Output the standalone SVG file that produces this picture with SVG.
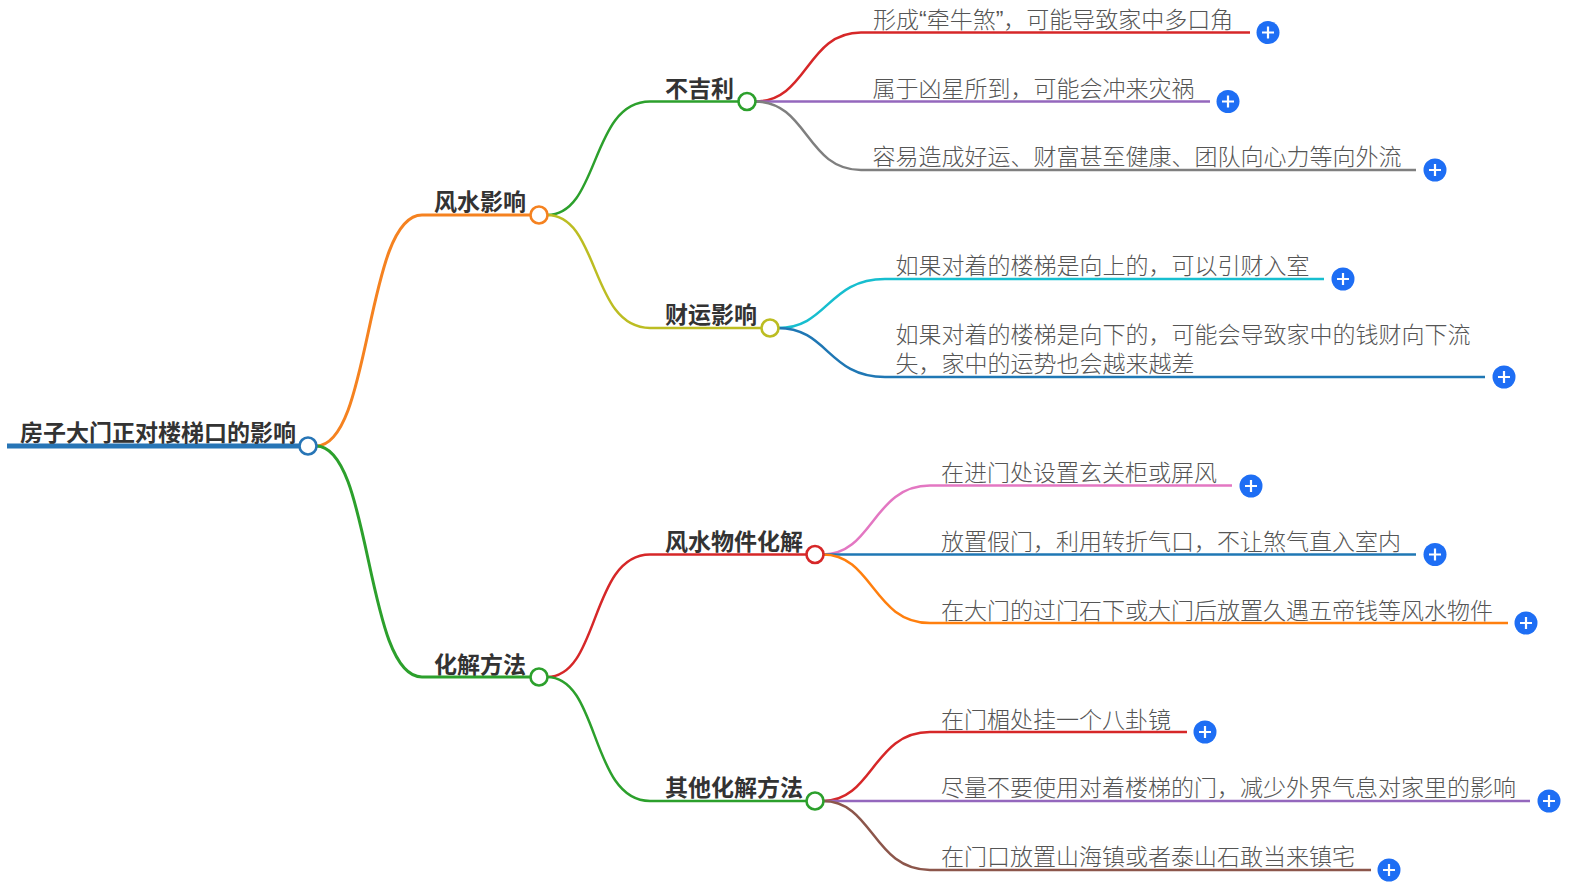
<svg xmlns="http://www.w3.org/2000/svg" width="1592" height="890" viewBox="0 0 1592 890">
<style>
text{font-family:"Noto Sans CJK SC","Noto Sans",sans-serif;font-size:23px}
.t{font-weight:700;fill:#333}
.l{font-weight:300;fill:#555}
.q{font-family:"Liberation Sans",sans-serif}
.c{fill:none;stroke-linecap:butt;stroke-width:2.500}
.m{stroke-width:3}
.r{stroke-width:5}
.d{fill:#fff;stroke-width:2.600}
.b{fill:#1e6ef4}
.p{stroke:#fff;stroke-width:2.200;fill:none}
</style>
<defs><g id="plus"><circle class="b" r="11.500"/><path class="p" d="M-6 0H6M0-6V6"/></g></defs>
<rect width="1592" height="890" fill="#fff"/>
<g id="connectors">
<path class="c r" stroke="#2775b6" d="M7 446H300"/>
<path class="c m" stroke="#f58220" d="M316 446C372 446 365 215 422 215H531"/>
<path class="c m" stroke="#2ca02c" d="M316 446C372 446 365 677 422 677H531"/>
<path class="c" stroke="#2ca02c" d="M547 215C600 215 590 101.500 650 101.500H739"/>
<path class="c" stroke="#bcbd22" d="M547 215C600 215 590 328 650 328H762"/>
<path class="c" stroke="#d62728" d="M547 677C600 677 590 554.500 650 554.500H807"/>
<path class="c" stroke="#2ca02c" d="M547 677C600 677 590 801 650 801H807"/>
<path class="c" stroke="#d62728" d="M755 101.500C808 101.500 806 32.500 861 32.500H1250"/>
<path class="c" stroke="#9467bd" d="M755 101.500H1210"/>
<path class="c" stroke="#7f7f7f" d="M755 101.500C808 101.500 806 170 861 170H1416"/>
<path class="c" stroke="#17becf" d="M778 328C828 328 828 279 885 279H1324"/>
<path class="c" stroke="#1f77b4" d="M778 328C828 328 828 377 885 377H1485"/>
<path class="c" stroke="#e377c2" d="M823 554.500C873 554.500 873 485.500 930 485.500H1232"/>
<path class="c" stroke="#1f77b4" d="M823 554.500H1416"/>
<path class="c" stroke="#ff7f0e" d="M823 554.500C873 554.500 873 623 930 623H1508"/>
<path class="c" stroke="#d62728" d="M823 801C873 801 873 732 930 732H1187"/>
<path class="c" stroke="#9467bd" d="M823 801H1530"/>
<path class="c" stroke="#8c564b" d="M823 801C873 801 873 870 930 870H1371"/>
</g>
<g id="root"><text class="t" x="20" y="441">房子大门正对楼梯口的影响</text><circle class="d" cx="308" cy="446" r="8.500" stroke="#2775b6"/></g>
<g id="n1"><text class="t" x="434" y="210">风水影响</text><circle class="d" cx="539" cy="215" r="8.500" stroke="#f58220"/></g>
<g id="n2"><text class="t" x="434" y="673">化解方法</text><circle class="d" cx="539" cy="677" r="8.500" stroke="#2ca02c"/></g>
<g id="n3"><text class="t" x="665" y="97">不吉利</text><circle class="d" cx="747" cy="101.500" r="8.500" stroke="#2ca02c"/></g>
<g id="n4"><text class="t" x="665" y="323">财运影响</text><circle class="d" cx="770" cy="328" r="8.500" stroke="#bcbd22"/></g>
<g id="n5"><text class="t" x="665" y="550">风水物件化解</text><circle class="d" cx="815" cy="554.500" r="8.500" stroke="#d62728"/></g>
<g id="n6"><text class="t" x="665" y="796">其他化解方法</text><circle class="d" cx="815" cy="801" r="8.500" stroke="#2ca02c"/></g>
<g id="a1"><text class="l" x="873" y="28">形成<tspan class="q">“</tspan>牵牛煞<tspan class="q">”</tspan>，可能导致家中多口角</text><use href="#plus" x="1268" y="32.500"/></g>
<g id="a2"><text class="l" x="872.500" y="97">属于凶星所到，可能会冲来灾祸</text><use href="#plus" x="1228" y="101.500"/></g>
<g id="a3"><text class="l" x="872.500" y="165">容易造成好运、财富甚至健康、团队向心力等向外流</text><use href="#plus" x="1435" y="170"/></g>
<g id="a4"><text class="l" x="895.500" y="274">如果对着的楼梯是向上的，可以引财入室</text><use href="#plus" x="1343" y="279"/></g>
<g id="a5"><text class="l"><tspan x="895.500" y="343">如果对着的楼梯是向下的，可能会导致家中的钱财向下流</tspan><tspan x="895.500" y="372">失，家中的运势也会越来越差</tspan></text><use href="#plus" x="1504" y="377"/></g>
<g id="a6"><text class="l" x="941" y="481">在进门处设置玄关柜或屏风</text><use href="#plus" x="1251" y="486"/></g>
<g id="a7"><text class="l" x="941" y="550">放置假门，利用转折气口，不让煞气直入室内</text><use href="#plus" x="1435" y="554.500"/></g>
<g id="a8"><text class="l" x="941" y="619">在大门的过门石下或大门后放置久遇五帝钱等风水物件</text><use href="#plus" x="1526" y="623"/></g>
<g id="a9"><text class="l" x="941" y="728">在门楣处挂一个八卦镜</text><use href="#plus" x="1205" y="732"/></g>
<g id="a10"><text class="l" x="941" y="796">尽量不要使用对着楼梯的门，减少外界气息对家里的影响</text><use href="#plus" x="1549" y="801"/></g>
<g id="a11"><text class="l" x="941" y="865">在门口放置山海镇或者泰山石敢当来镇宅</text><use href="#plus" x="1389" y="870"/></g>
</svg>
